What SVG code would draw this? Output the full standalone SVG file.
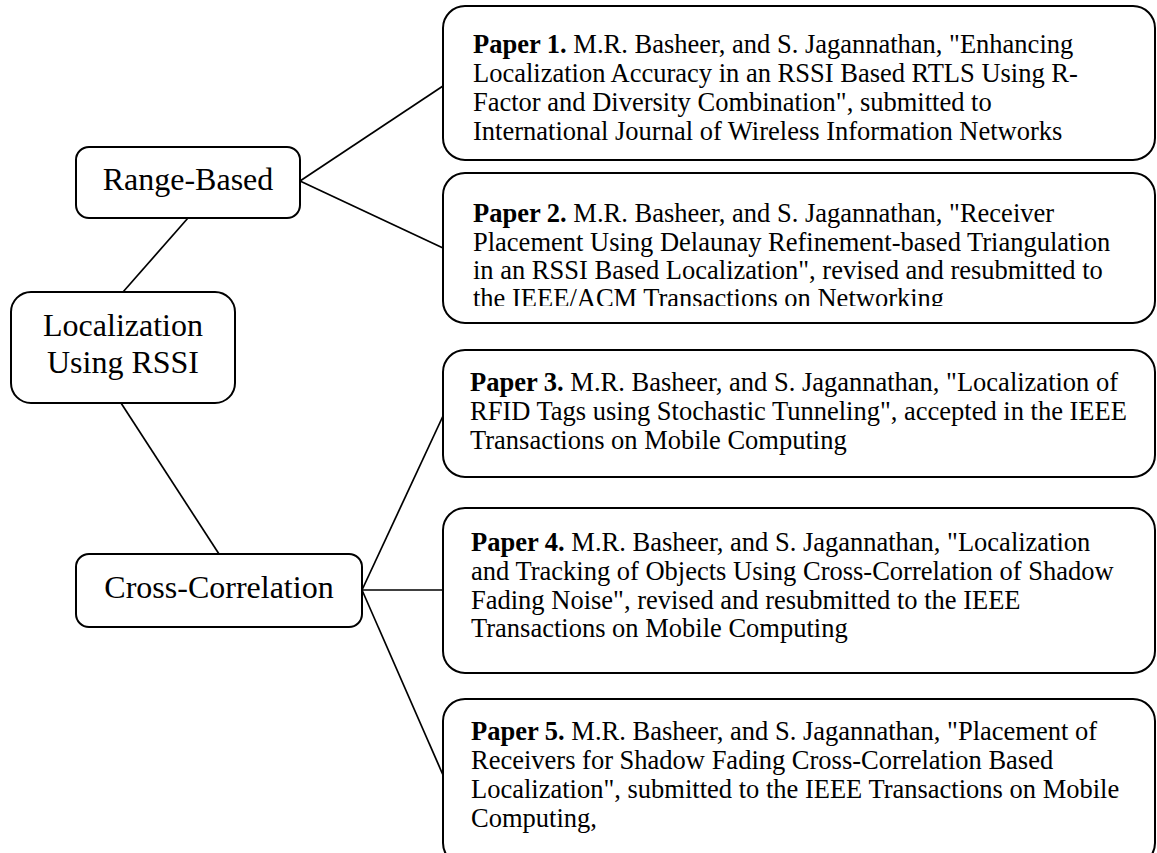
<svg xmlns="http://www.w3.org/2000/svg" width="1157" height="853" viewBox="0 0 1157 853">
<style>
.box{fill:#fff;stroke:#000;stroke-width:2}
.lbl{font-family:"Liberation Serif","Times New Roman",serif;font-size:32px;fill:#000;text-anchor:middle}
.ptxt{font-family:"Liberation Serif","Times New Roman",serif;font-size:26.5px;fill:#000}
.b{font-weight:bold}
.conn line{stroke:#000;stroke-width:1.7}
</style>
<defs>
<clipPath id="clip2"><rect x="443" y="173" width="712" height="133"/></clipPath>
</defs>
<rect width="1157" height="853" fill="#fff"/>
<g id="connectors" class="conn">
<line x1="188" y1="218" x2="123" y2="292"/>
<line x1="121" y1="403" x2="219" y2="554"/>
<line x1="300" y1="181" x2="443" y2="86"/>
<line x1="300" y1="181" x2="443" y2="248"/>
<line x1="362" y1="590" x2="443" y2="416"/>
<line x1="362" y1="590" x2="443" y2="590"/>
<line x1="362" y1="590" x2="443" y2="775"/>
</g>
<g id="range-based">
<rect class="box" x="76" y="147" width="224" height="71" rx="13"/>
<text class="lbl" x="188" y="190">Range-Based</text>
</g>
<g id="localization">
<rect class="box" x="11" y="292" width="224" height="111" rx="20"/>
<text class="lbl" x="123" y="336">Localization</text>
<text class="lbl" x="123" y="373">Using RSSI</text>
</g>
<g id="cross-correlation">
<rect class="box" x="76" y="554" width="286" height="73" rx="13"/>
<text class="lbl" x="219" y="598">Cross-Correlation</text>
</g>
<g id="paper1">
<rect class="box" x="443" y="6" width="712" height="154" rx="22"/>
<text class="ptxt" x="473" y="53"><tspan class="b">Paper 1.</tspan> M.R. Basheer, and S. Jagannathan, "Enhancing</text>
<text class="ptxt" x="473" y="82">Localization Accuracy in an RSSI Based RTLS Using R-</text>
<text class="ptxt" x="473" y="111">Factor and Diversity Combination", submitted to</text>
<text class="ptxt" x="473" y="140">International Journal of Wireless Information Networks</text>
</g>
<g id="paper2">
<rect class="box" x="443" y="173" width="712" height="150" rx="22"/>
<g clip-path="url(#clip2)">
<text class="ptxt" x="473" y="222"><tspan class="b">Paper 2.</tspan> M.R. Basheer, and S. Jagannathan, "Receiver</text>
<text class="ptxt" x="473" y="251">Placement Using Delaunay Refinement-based Triangulation</text>
<text class="ptxt" x="473" y="279">in an RSSI Based Localization", revised and resubmitted to</text>
<text class="ptxt" x="473" y="307">the IEEE/ACM Transactions on Networking</text>
</g>
</g>
<g id="paper3">
<rect class="box" x="443" y="350" width="712" height="127" rx="22"/>
<text class="ptxt" x="470" y="391"><tspan class="b">Paper 3.</tspan> M.R. Basheer, and S. Jagannathan, "Localization of</text>
<text class="ptxt" x="470" y="420">RFID Tags using Stochastic Tunneling", accepted in the IEEE</text>
<text class="ptxt" x="470" y="449">Transactions on Mobile Computing</text>
</g>
<g id="paper4">
<rect class="box" x="443" y="508" width="712" height="165" rx="22"/>
<text class="ptxt" x="471" y="551"><tspan class="b">Paper 4.</tspan> M.R. Basheer, and S. Jagannathan, "Localization</text>
<text class="ptxt" x="471" y="580">and Tracking of Objects Using Cross-Correlation of Shadow</text>
<text class="ptxt" x="471" y="609">Fading Noise", revised and resubmitted to the IEEE</text>
<text class="ptxt" x="471" y="637">Transactions on Mobile Computing</text>
</g>
<g id="paper5">
<rect class="box" x="443" y="699" width="712" height="166" rx="22"/>
<text class="ptxt" x="471" y="740"><tspan class="b">Paper 5.</tspan> M.R. Basheer, and S. Jagannathan, "Placement of</text>
<text class="ptxt" x="471" y="769">Receivers for Shadow Fading Cross-Correlation Based</text>
<text class="ptxt" x="471" y="798">Localization", submitted to the IEEE Transactions on Mobile</text>
<text class="ptxt" x="471" y="827">Computing,</text>
</g>
</svg>
